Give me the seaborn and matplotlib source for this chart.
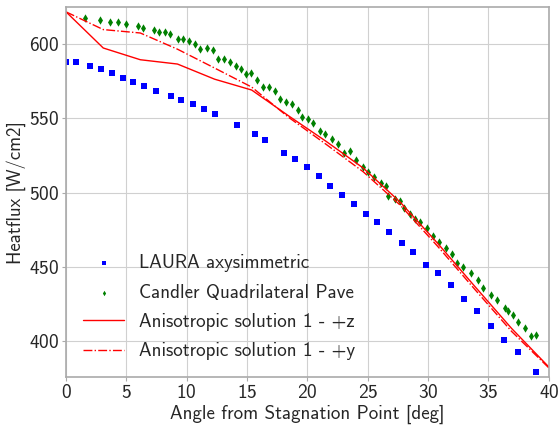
import numpy as np
import pandas as pd
import matplotlib
matplotlib.use('Agg')
import matplotlib.pyplot as plt
import seaborn as sns

# LAURA axisymmetric
laura_deg = [0.0, 0.83, 1.99, 2.90, 3.78, 4.75, 5.58, 6.49, 7.43, 8.70, 9.55, 10.49,
             11.40, 12.31, 14.13, 15.65, 16.48, 18.08, 18.99, 19.96, 20.95, 21.89,
             22.86, 23.83, 24.82, 25.78, 26.77, 27.80, 28.76, 29.81, 30.86, 31.88,
             32.94, 34.01, 35.20, 36.27, 37.41, 38.95]
laura_q = [588.2, 587.8, 585.3, 583.1, 580.8, 577.0, 574.3, 571.4, 568.4, 564.9, 562.4,
           559.9, 556.1, 552.7, 545.5, 539.4, 535.3, 526.8, 522.3, 517.3, 511.0, 504.3,
           498.4, 492.6, 485.6, 480.0, 473.6, 466.2, 460.3, 450.9, 445.9, 437.8,
           428.4, 420.5, 410.3, 400.7, 392.7, 378.9]

# Candler quadrilateral pave
candler_deg = [1.57, 2.79, 3.67, 4.33, 4.94, 5.94, 6.35, 7.26, 7.70, 8.17, 8.61, 9.25,
               9.69, 10.16, 10.68, 11.10, 11.68, 12.15, 12.59, 13.06, 13.56, 14.10,
               14.47, 14.88, 15.35, 15.84, 16.31, 16.79, 17.31, 17.75, 18.22, 18.69,
               19.21, 19.52, 20.04, 20.46, 21.06, 21.47, 22.00, 22.50, 23.02, 23.52,
               24.04, 24.57, 24.98, 25.48, 26.06, 26.50, 26.71, 27.25, 27.69, 28.03,
               28.49, 28.88, 29.34, 29.92, 30.42, 30.89, 31.47, 31.97, 32.41, 32.90,
               33.54, 34.15, 34.56, 35.20, 35.72, 36.38, 36.66, 37.04, 37.43, 38.04,
               38.51, 38.95]
candler_q = [617.6, 616.4, 615.1, 614.9, 613.2, 612.2, 611.0, 609.2, 607.8, 607.8, 606.8,
             603.6, 603.1, 601.8, 600.2, 596.6, 597.0, 595.7, 590.1, 590.1, 588.2, 585.1,
             583.1, 579.7, 580.8, 575.7, 571.1, 570.9, 568.4, 563.2, 561.2, 559.7,
             555.8, 550.7, 549.3, 547.0, 541.6, 539.6, 535.8, 532.6, 526.8, 527.7,
             521.8, 517.3, 513.8, 510.2, 506.3, 504.6, 498.0, 495.8, 494.2, 489.8,
             485.3, 482.0, 480.1, 476.1, 470.5, 466.4, 462.6, 458.5, 452.7, 450.0,
             445.7, 441.0, 436.0, 431.3, 427.9, 422.5, 420.5, 417.6, 412.6, 408.6,
             403.2, 403.8]

# Anisotropic solution nodes
aniso_deg = [0.0, 3.08, 6.15, 9.23, 12.31, 15.38, 18.46, 21.54, 24.62, 27.69,
             30.77, 33.85, 36.92, 40.0]
aniso_z = [621.6, 597.3, 589.4, 586.5, 576.3, 569.0, 551.5, 534.5, 516.5, 493.5,
           466.0, 437.0, 408.5, 382.6]
aniso_y = [621.6, 609.7, 607.4, 596.5, 583.8, 571.0, 550.5, 532.5, 514.0, 491.5,
           464.0, 435.0, 406.5, 382.0]

sns.set_style("whitegrid")
plt.rcParams['font.family'] = ['cmss10', 'DejaVu Sans']
plt.rcParams['axes.formatter.use_mathtext'] = True

fig = plt.figure(figsize=(5.6, 4.28), dpi=100)
ax = fig.add_axes([0.118, 0.118, 0.862, 0.866])

sns.scatterplot(x=laura_deg, y=laura_q, marker='s', color='b', s=22, linewidth=0,
                label='LAURA axysimmetric', ax=ax)
sns.scatterplot(x=candler_deg, y=candler_q, marker='d', color='g', s=18, linewidth=0,
                label='Candler Quadrilateral Pave', ax=ax)
sns.lineplot(x=aniso_deg, y=aniso_z, color='r', linewidth=1.0, sort=False,
             label='Anisotropic solution 1 - +z', ax=ax)
sns.lineplot(x=aniso_deg, y=aniso_y, color='r', linewidth=1.0, linestyle='-.', sort=False,
             label='Anisotropic solution 1 - +y', ax=ax)

ax.set_xlim(0, 40)
ax.set_ylim(375.5, 625)
ax.set_xticks(np.arange(0, 41, 5))
ax.set_yticks(np.arange(400, 601, 50))
ax.tick_params(labelsize=14, length=3, color='#aaaaaa', direction='out', pad=2)
ax.tick_params(left=True, bottom=True)
for sp in ax.spines.values():
    sp.set_color('#aaaaaa')
    sp.set_linewidth(1.2)
ax.grid(color='#d0d0d0', linewidth=0.8)
ax.set_xlabel('Angle from Stagnation Point [deg]', fontsize=13.7, labelpad=2)
ax.set_ylabel('Heatflux [W/cm2]', fontsize=13.5, labelpad=2)

ax.legend(loc='lower left', bbox_to_anchor=(0.0, 0.0), frameon=False, fontsize=13.7,
          handlelength=2.15, markerscale=0.65, labelspacing=0.6)

fig.savefig('out.png', dpi=100)
